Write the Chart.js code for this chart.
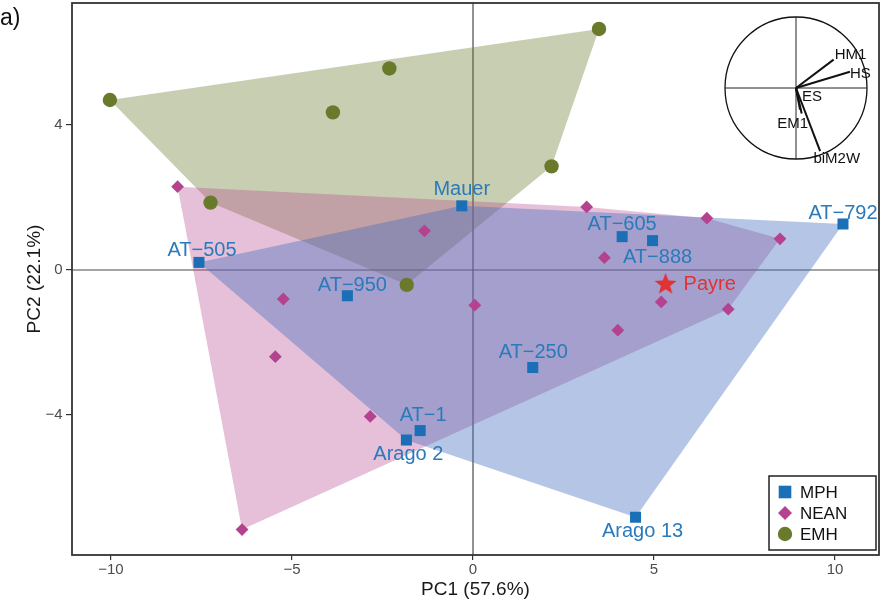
<!DOCTYPE html>
<html>
<head>
<meta charset="utf-8">
<style>
  html, body { margin: 0; padding: 0; background: #fff; }
  #wrap { position: relative; width: 882px; height: 603px; }
  #main { position: absolute; left: 0; top: 0; }
  #inset { position: absolute; left: 716px; top: 8px; }
</style>
<script src="https://cdn.jsdelivr.net/npm/chart.js@4"></script>
</head>
<body>
<div id="wrap">
  <canvas id="main" width="882" height="603"></canvas>
  <canvas id="inset" width="160" height="160"></canvas>
</div>
<script>
// ---- PCA scores ----
const mphNames = ['Mauer', 'AT\u2212605', 'AT\u2212888', 'AT\u2212792', 'AT\u2212505', 'AT\u2212950', 'AT\u2212250', 'AT\u22121', 'Arago 2', 'Arago 13'];
const mphX = [-0.31, 4.12, 4.96, 10.22, -7.57, -3.47, 1.65, -1.46, -1.84, 4.49];
const mphY = [1.77, 0.92, 0.81, 1.27, 0.21, -0.71, -2.69, -4.43, -4.69, -6.82];

const neanX = [-8.16, -1.34, 3.14, 3.63, 6.46, 8.48, 5.20, 7.05, 4.00, 0.05, -5.24, -5.46, -2.84, -6.38];
const neanY = [2.30, 1.08, 1.74, 0.34, 1.43, 0.86, -0.88, -1.08, -1.66, -0.97, -0.80, -2.39, -4.04, -7.16];

const emhX = [-10.03, -7.25, -2.31, -3.87, 3.48, 2.17, -1.83];
const emhY = [4.69, 1.86, 5.56, 4.35, 6.65, 2.86, -0.41];

const payreName = 'Payre';
const payreX = [5.32];
const payreY = [-0.37];

const groupNames = ['MPH', 'NEAN', 'EMH'];

// ---- axes ----
const xTicks = [-10, -5, 0, 5, 10];
const xTickLabels = ['\u221210', '\u22125', '0', '5', '10'];
const yTicks = [-4, 0, 4];
const yTickLabels = ['\u22124', '0', '4'];
const xTitle = 'PC1 (57.6%)';
const yTitle = 'PC2 (22.1%)';
const panelTag = 'a)';

// ---- variable loadings (correlation circle) ----
const loadNames = ['HM1', 'HS', 'ES', 'EM1', 'biM2W'];
const loadX = [0.53, 0.76, 0.056, 0.08, 0.34];
const loadY = [0.40, 0.23, -0.305, -0.36, -0.89];

// ---- styling ----
const FONT = '"Liberation Sans", Arial, Helvetica, sans-serif';
const colMPH = '#1a6fb6';
const colMPHText = '#2a7abc';
const colNEAN = '#b5428f';
const colEMH = '#6a7a2c';
const colPayre = '#e23232';
const fillMPH = 'rgba(70,110,190,0.40)';
const fillNEAN = 'rgba(184,80,148,0.36)';
const fillEMH = 'rgba(107,123,44,0.37)';

// label placement relative to each marker, in px (label centre)
const mphLabelOffsets = [[0, -18], [0, -14], [5, 15], [0, -12], [3, -14], [5, -11.5], [0.5, -17], [3, -17], [2, 13], [7, 13]];
const loadLabelOffsets = [[17, -5.6], [10.5, 1], [12, -14], [-9, 9], [16.6, 6.5]];

Chart.defaults.font.family = FONT;
Chart.defaults.animation = false;

function pts(xs, ys) { return xs.map((x, i) => ({ x: x, y: ys[i] })); }

// convex hull (monotone chain), closed
function hull(xs, ys) {
  const p = pts(xs, ys).sort((a, b) => a.x - b.x || a.y - b.y);
  const cross = (o, a, b) => (a.x - o.x) * (b.y - o.y) - (a.y - o.y) * (b.x - o.x);
  const lower = [], upper = [];
  for (const q of p) {
    while (lower.length >= 2 && cross(lower[lower.length - 2], lower[lower.length - 1], q) <= 0) lower.pop();
    lower.push(q);
  }
  for (let i = p.length - 1; i >= 0; i--) {
    const q = p[i];
    while (upper.length >= 2 && cross(upper[upper.length - 2], upper[upper.length - 1], q) <= 0) upper.pop();
    upper.push(q);
  }
  upper.pop(); lower.pop();
  const h = lower.concat(upper);
  h.push({ x: h[0].x, y: h[0].y });
  return h;
}

function starImage(R, r, color) {
  const s = Math.ceil(R * 2 + 2);
  const c = document.createElement('canvas');
  c.width = s; c.height = s;
  const g = c.getContext('2d');
  g.fillStyle = color;
  g.beginPath();
  for (let i = 0; i < 10; i++) {
    const a = -Math.PI / 2 + i * Math.PI / 5;
    const rr = i % 2 ? r : R;
    g.lineTo(s / 2 + rr * Math.cos(a), s / 2 + 1 + rr * Math.sin(a));
  }
  g.closePath();
  g.fill();
  return c;
}

function hullDataset(xs, ys, color) {
  return {
    type: 'line', data: hull(xs, ys), backgroundColor: color, borderWidth: 0,
    borderColor: 'rgba(0,0,0,0)', pointRadius: 0, fill: 'shape', tension: 0
  };
}

// fixed axis box sizes, no extra edge padding for the tick labels
function fixBox(size) {
  return s => {
    if (s.isHorizontal()) s.height = size; else s.width = size;
    s.paddingTop = 0; s.paddingBottom = 0; s.paddingLeft = 0; s.paddingRight = 0;
  };
}

// zero lines, panel frame, point labels, legend and panel tag
const decorPlugin = {
  id: 'decor',
  beforeDatasetsDraw(chart) {
    const { ctx, chartArea: a, scales: { x, y } } = chart;
    ctx.save();
    ctx.strokeStyle = '#4a4a4a';
    ctx.lineWidth = 1.2;
    const x0 = x.getPixelForValue(0), y0 = y.getPixelForValue(0);
    ctx.beginPath();
    ctx.moveTo(x0, a.top); ctx.lineTo(x0, a.bottom);
    ctx.moveTo(a.left, y0); ctx.lineTo(a.right, y0);
    ctx.stroke();
    ctx.restore();
  },
  afterDatasetsDraw(chart) {
    const { ctx, chartArea: a } = chart;
    ctx.save();
    // frame
    ctx.strokeStyle = '#333';
    ctx.lineWidth = 1.8;
    ctx.strokeRect(a.left, a.top, a.right - a.left, a.bottom - a.top);

    // specimen labels
    ctx.font = '20px ' + FONT;
    ctx.textBaseline = 'alphabetic';
    ctx.textAlign = 'center';
    ctx.fillStyle = colMPHText;
    chart.getDatasetMeta(1).data.forEach((pt, i) => {
      const o = mphLabelOffsets[i];
      ctx.fillText(mphNames[i], pt.x + o[0], pt.y + o[1] + 7.2);
    });
    const pp = chart.getDatasetMeta(0).data[0];
    ctx.textAlign = 'left';
    ctx.fillStyle = colPayre;
    ctx.fillText(payreName, pp.x + 18, pp.y + 6.5);

    // legend
    const lx = 769, ly = 476, lw = 107, lh = 74;
    ctx.fillStyle = '#fff';
    ctx.fillRect(lx, ly, lw, lh);
    ctx.strokeStyle = '#222';
    ctx.lineWidth = 1.5;
    ctx.strokeRect(lx, ly, lw, lh);
    const rows = [492, 513, 534];
    const sx = 785;
    ctx.fillStyle = colMPH;
    ctx.fillRect(sx - 6.3, rows[0] - 6.3, 12.6, 12.6);
    ctx.fillStyle = colNEAN;
    ctx.beginPath();
    ctx.moveTo(sx, rows[1] - 7); ctx.lineTo(sx + 7, rows[1]); ctx.lineTo(sx, rows[1] + 7); ctx.lineTo(sx - 7, rows[1]);
    ctx.closePath(); ctx.fill();
    ctx.fillStyle = colEMH;
    ctx.beginPath(); ctx.arc(sx, rows[2], 7.2, 0, Math.PI * 2); ctx.fill();
    ctx.fillStyle = '#111';
    ctx.font = '17px ' + FONT;
    ctx.textAlign = 'left';
    groupNames.forEach((n, i) => ctx.fillText(n, 800, rows[i] + 6.2));

    // panel tag
    ctx.font = '23px ' + FONT;
    ctx.fillStyle = '#111';
    ctx.fillText(panelTag, 0, 25);
    ctx.restore();
  }
};

new Chart(document.getElementById('main'), {
  type: 'scatter',
  data: {
    datasets: [
      { label: payreName, data: pts(payreX, payreY), pointStyle: starImage(11.5, 4.8, colPayre), pointRadius: 12 },
      { label: 'MPH', data: pts(mphX, mphY), pointStyle: 'rect', pointRadius: 7.8, backgroundColor: colMPH, borderWidth: 0 },
      { label: 'NEAN', data: pts(neanX, neanY), pointStyle: 'rectRot', pointRadius: 6.4, backgroundColor: colNEAN, borderWidth: 0 },
      { label: 'EMH', data: pts(emhX, emhY), pointStyle: 'circle', pointRadius: 7.2, backgroundColor: colEMH, borderWidth: 0 },
      hullDataset(mphX, mphY, fillMPH),
      hullDataset(neanX, neanY, fillNEAN),
      hullDataset(emhX, emhY, fillEMH)
    ]
  },
  options: {
    responsive: false,
    events: [],
    layout: { autoPadding: false, padding: { top: 3, right: 3, left: 0, bottom: 0 } },
    plugins: { legend: { display: false }, tooltip: { enabled: false } },
    scales: {
      x: {
        type: 'linear', min: -11.077, max: 11.215,
        afterBuildTicks: s => { s.ticks = xTicks.map(v => ({ value: v })); },
        afterFit: fixBox(48),
        ticks: { callback: v => xTickLabels[xTicks.indexOf(v)], color: '#4d4d4d', font: { size: 15 }, padding: 1, maxRotation: 0 },
        grid: { drawOnChartArea: false, drawTicks: true, tickLength: 5, color: '#333', lineWidth: 1.2 },
        border: { display: false },
        title: { display: true, text: xTitle, color: '#1a1a1a', font: { size: 19 }, padding: { top: 0, bottom: 1.6 } }
      },
      y: {
        type: 'linear', min: -7.862, max: 7.366,
        afterBuildTicks: s => { s.ticks = yTicks.map(v => ({ value: v })); },
        afterFit: fixBox(72),
        ticks: { callback: v => yTickLabels[yTicks.indexOf(v)], color: '#4d4d4d', font: { size: 15 }, padding: 3.5 },
        grid: { drawOnChartArea: false, drawTicks: true, tickLength: 6, color: '#333', lineWidth: 1.2 },
        border: { display: false },
        title: { display: true, text: yTitle, color: '#1a1a1a', font: { size: 19 }, padding: { top: 23.6, bottom: 0 } }
      }
    }
  },
  plugins: [decorPlugin]
});

// ---- correlation circle ----
const circlePlugin = {
  id: 'circle',
  beforeDatasetsDraw(chart) {
    const { ctx, scales: { x, y } } = chart;
    const cx = x.getPixelForValue(0), cy = y.getPixelForValue(0);
    const r = x.getPixelForValue(1) - cx;
    ctx.save();
    ctx.strokeStyle = '#111';
    ctx.lineWidth = 1.3;
    ctx.beginPath(); ctx.arc(cx, cy, r, 0, Math.PI * 2); ctx.stroke();
    ctx.restore();
  },
  afterDatasetsDraw(chart) {
    const { ctx, scales: { x, y } } = chart;
    ctx.save();
    ctx.font = '15px ' + FONT;
    ctx.fillStyle = '#111';
    ctx.textAlign = 'center';
    ctx.textBaseline = 'alphabetic';
    loadNames.forEach((n, i) => {
      const px = x.getPixelForValue(loadX[i]), py = y.getPixelForValue(loadY[i]);
      const o = loadLabelOffsets[i];
      ctx.fillText(n, px + o[0], py + o[1] + 5.4);
    });
    ctx.restore();
  }
};

const axisLine = (a, b) => ({ type: 'line', data: [a, b], borderColor: '#222', borderWidth: 1, pointRadius: 0, tension: 0 });
const insetSets = loadNames.map((n, i) => ({
  type: 'line', label: n, data: [{ x: 0, y: 0 }, { x: loadX[i], y: loadY[i] }],
  borderColor: '#111', borderWidth: 2, pointRadius: 0, tension: 0
}));
insetSets.push(axisLine({ x: -1, y: 0 }, { x: 1, y: 0 }), axisLine({ x: 0, y: -1 }, { x: 0, y: 1 }));

new Chart(document.getElementById('inset'), {
  type: 'scatter',
  data: { datasets: insetSets },
  options: {
    responsive: false,
    events: [],
    layout: { autoPadding: false, padding: 0 },
    plugins: { legend: { display: false }, tooltip: { enabled: false } },
    scales: {
      x: { type: 'linear', min: -1.127, max: 1.127, display: false, afterFit: fixBox(0) },
      y: { type: 'linear', min: -1.127, max: 1.127, display: false, afterFit: fixBox(0) }
    }
  },
  plugins: [circlePlugin]
});
</script>
</body>
</html>
